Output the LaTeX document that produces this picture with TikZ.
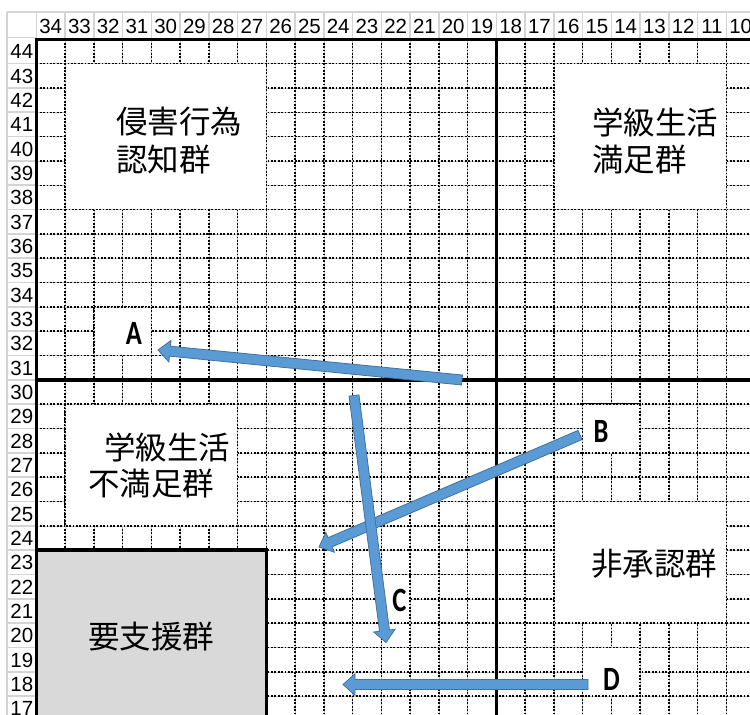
\documentclass[tikz,border=0pt]{standalone}
\usepackage{fontspec}
\setmainfont{Liberation Sans}
\newfontfamily\jpfont{Noto Sans CJK JP}
\newfontfamily\labfont{Carlito}
\usetikzlibrary{calc}
\definecolor{hdrgrey}{HTML}{D4D4D4}
\definecolor{gridgrey}{HTML}{C4C4C4}
\definecolor{boxgrey}{HTML}{D9D9D9}
\definecolor{arrfill}{HTML}{5B9BD5}
\definecolor{arrline}{HTML}{41719C}
\tikzset{
  hdrline/.style={draw=hdrgrey, line width=1.6pt},
  hdrnum/.style={font=\fontsize{20.5}{24}\selectfont, inner sep=0pt},
  gline/.style={draw=gridgrey, line width=0.6pt},
  dline/.style={draw=black, line width=1.55pt, dash pattern=on 1.8pt off 1.6pt},
  frameline/.style={draw=black, line width=3.5pt},
  jptext/.style={font=\jpfont\fontsize{31.5}{36}\selectfont, inner sep=0pt, anchor=west},
  lettertext/.style={font=\labfont\bfseries\fontsize{34}{40}\selectfont, inner sep=0pt, xscale=0.78},
  blockarr/.style={fill=arrfill, draw=arrline, line width=0.8pt, line join=miter},
}
\newcommand\blockarrow[2]{%
  \filldraw[blockarr] let \p1=($(#2)-(#1)$), \n1={atan2(\y1,\x1)} in
    ($(#1)+(\n1+90:5pt)$) --
    ($(#2)+(\n1:-12pt)+(\n1+90:5pt)$) --
    ($(#2)+(\n1:-12pt)+(\n1+90:10.8pt)$) --
    (#2) --
    ($(#2)+(\n1:-12pt)+(\n1-90:10.8pt)$) --
    ($(#2)+(\n1:-12pt)+(\n1-90:5pt)$) --
    ($(#1)+(\n1-90:5pt)$) -- cycle;}
\begin{document}
\begin{tikzpicture}[x=1pt,y=-1pt]
\useasboundingbox (0,0) rectangle (750,715);
\fill[white] (0,0) rectangle (750,715);
% headers
\draw[hdrline] (7,12) -- (750,12);
\draw[hdrline] (7,12) -- (7,715);
\draw[hdrline] (7,37.5) -- (36.3,37.5);
\foreach \i in {0,...,25} \draw[hdrline] ({36.3+28.75*\i},12) -- ({36.3+28.75*\i},37.5);
\foreach \j in {1,...,28} \draw[hdrline] (7,{39.3+24.33*\j}) -- (36.3,{39.3+24.33*\j});
\foreach \n [count=\i from 0] in {34,33,...,10}
  \node[hdrnum] (c\n) at ({36.3+28.75*\i+14.4},26.5) {\n};
\foreach \n [count=\j from 0] in {44,43,...,17}
  \node[hdrnum, anchor=east] (r\n) at (33.5,{39.3+24.33*\j+12.5}) {\n};
% grid
\begin{scope}[shift={(36.3pt,-39.3pt)}, x=28.75pt, y=-24.33pt]
  \foreach \i in {1,...,25} \draw[gline] (\i,0) -- (\i,28.5);
  \foreach \j in {1,...,28} \draw[gline] (0,\j) -- (25.5,\j);
  \foreach \i in {1,...,25} \draw[dline] (\i,0) -- (\i,28.5);
  \foreach \j in {1,...,28} \draw[dline] (0,\j) -- (25.5,\j);
  \foreach \a/\b/\c/\d in {1/1/8/7, 18/1/24/7, 1/15/7/20, 18/19/24/24,
                           2/11/4/13, 19/15/21/17, 12/22/13/24, 19/25/21/27} {
    \fill[white] (\a,\b) rectangle (\c,\d);
    \draw[gline] (\a,\b) rectangle (\c,\d);
    \draw[dline] (\a,\b) rectangle (\c,\d);
  }
  \fill[boxgrey] (0,21) rectangle (8,28.5);
  \draw[frameline] (0,21) -- (8,21) -- (8,28.5);
  \draw[frameline] (0,28.5) -- (0,0) -- (25.5,0);
  \draw[frameline] (16,0) -- (16,28.5);
  \draw[frameline] (0,14) -- (25.5,14);
\end{scope}
% group labels
\node[jptext] (g1a) at (116,122) {侵害行為};
\node[jptext] (g1b) at (116,160) {認知群};
\node[jptext] (g2a) at (592,122) {学級生活};
\node[jptext] (g2b) at (592,160) {満足群};
\node[jptext] (g3a) at (104,447) {学級生活};
\node[jptext] (g3b) at (88,484) {不満足群};
\node[jptext] (g4) at (591,564) {非承認群};
\node[jptext] (g5) at (88,637) {要支援群};
% arrows
\coordinate (aS) at (462,380);
\coordinate (aT) at (158,350);
\coordinate (bS) at (580,435);
\coordinate (bT) at (319,547);
\coordinate (cS) at (354,395.5);
\coordinate (cT) at (386,642.5);
\coordinate (dS) at (588,684.5);
\coordinate (dT) at (343,684.5);
\blockarrow{aS}{aT}
\blockarrow{dS}{dT}
\blockarrow{bS}{bT}
\blockarrow{cS}{cT}
% letters
\node[lettertext] (la) at (134,333.5) {A};
\node[lettertext] (lb) at (601,431) {B};
\node[lettertext] (lc) at (399.5,600.5) {C};
\node[lettertext] (ld) at (611.5,679) {D};
\end{tikzpicture}
\end{document}
